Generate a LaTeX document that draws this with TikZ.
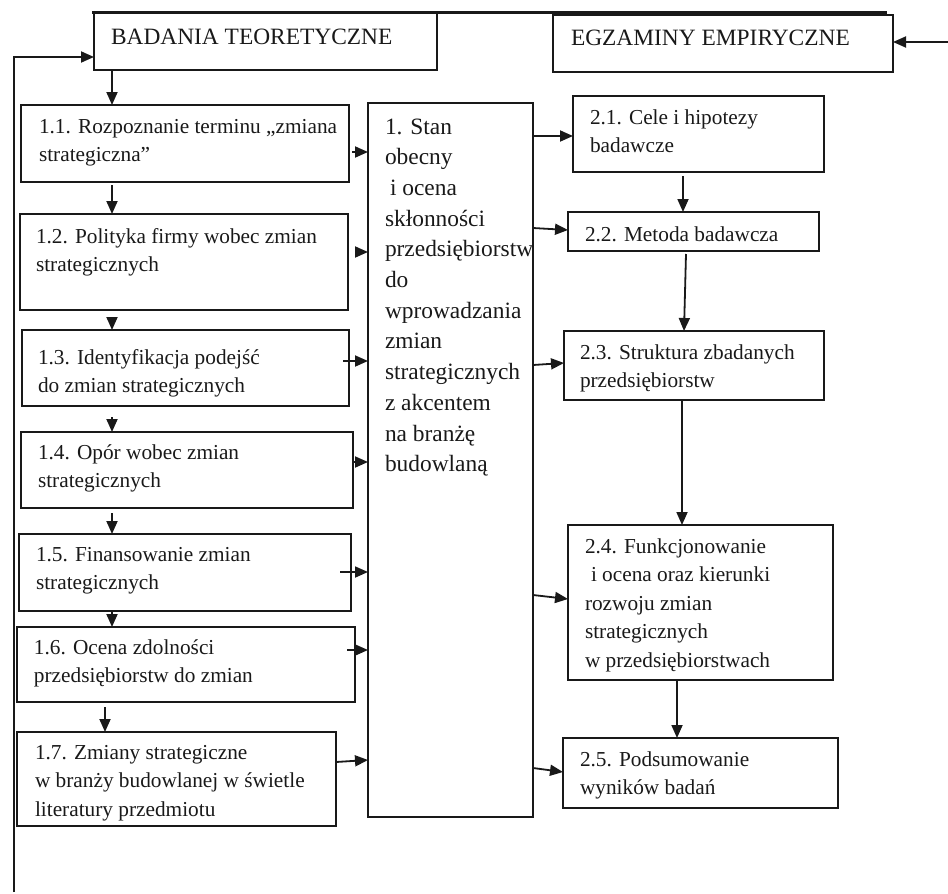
\documentclass[tikz,border=0pt]{standalone}
\usepackage{fontspec}
\setmainfont{Liberation Serif}
\usetikzlibrary{arrows.meta}
\newcommand\smallfnt{\fontsize{21.3}{28.5}\selectfont}
\newcommand\bigfnt{\fontsize{23.4}{30.7}\selectfont}
% box: name, left, top, right, bottom
\newcommand\bx[5]{\node[box, minimum width={(#4-#2)*1pt}, minimum height={(#5-#3)*1pt}] (#1) at (#2,#3) {};}
% small text: name, x, baseline, text
\newcommand\stx[4]{\node[stxt] (#1) at (#2,{#3-19.95}) {\strut #4};}
% big text: name, x, baseline, text
\newcommand\btx[4]{\node[btxt] (#1) at (#2,{#3-21.49}) {\strut #4};}
\begin{document}
\begin{tikzpicture}[x=1pt,y=-1pt,
  box/.style={draw=black!90, line width=1.7pt, inner sep=0pt, outer sep=0pt, anchor=north west},
  stxt/.style={inner sep=0pt, outer sep=0pt, anchor=north west, align=left, font=\smallfnt, text=black!90},
  btxt/.style={inner sep=0pt, outer sep=0pt, anchor=north west, align=left, font=\bigfnt, text=black!90},
  arr/.style={draw=black!90, line width=1.8pt, -{Triangle[length=13pt,width=11pt]}},
  topline/.style={draw=black!90, line width=3pt}]
\useasboundingbox (0,0) rectangle (948,894);

% boxes
\bx{b0}{94}{13}{437}{70}
\bx{b00}{553}{15}{893}{72}
\bx{b11}{21}{105}{349}{182}
\bx{b12}{20}{214}{348}{310}
\bx{b13}{22}{330}{349}{406}
\bx{b14}{21}{432}{353}{508}
\bx{b15}{19}{534}{351}{611}
\bx{b16}{17}{627}{355}{702}
\bx{b17}{17}{732}{336}{826}
\bx{c}{368}{103}{533}{817}
\bx{b21}{573}{96}{824}{172}
\bx{b22}{568}{212}{819}{251}
\bx{b23}{564}{331}{824}{400}
\bx{b24}{568}{525}{833}{680}
\bx{b25}{563}{738}{838}{808}

% texts
\btx{t0}{111}{44}{BADANIA TEORETYCZNE}
\btx{t00}{571}{45}{EGZAMINY EMPIRYCZNE}
\stx{t11}{39}{133}{1.1. Rozpoznanie terminu „zmiana\\strategiczna”}
\stx{t12}{36}{243}{1.2. Polityka firmy wobec zmian\\strategicznych}
\stx{t13}{38}{364}{1.3. Identyfikacja podejść\\do zmian strategicznych}
\stx{t14}{38}{459}{1.4. Opór wobec zmian\\strategicznych}
\stx{t15}{36}{561}{1.5. Finansowanie zmian\\strategicznych}
\stx{t16}{34}{654}{1.6. Ocena zdolności\\przedsiębiorstw do zmian}
\stx{t17}{35}{759}{1.7. Zmiany strategiczne\\w branży budowlanej w świetle\\literatury przedmiotu}
\btx{tc}{385}{134}{1. Stan\\obecny\\\hspace*{5pt}i ocena\\skłonności\\przedsiębiorstw\\do\\wprowadzania\\zmian\\strategicznych\\z akcentem\\na branżę\\budowlaną}
\stx{t21}{590}{124}{2.1. Cele i hipotezy\\badawcze}
\stx{t22}{585}{241}{2.2. Metoda badawcza}
\stx{t23}{580}{359}{2.3. Struktura zbadanych\\przedsiębiorstw}
\stx{t24}{585}{553}{2.4. Funkcjonowanie\\\hspace*{6pt}i ocena oraz kierunki\\rozwoju zmian\\strategicznych\\w przedsiębiorstwach}
\stx{t25}{580}{766}{2.5. Podsumowanie\\wyników badań}

% top line
\draw[topline] ([xshift=-2pt,yshift=1pt]b0.north west) -- ([xshift=-6pt,yshift=3pt]b00.north east);

% feedback lines
\coordinate (fb) at (14,892);
\draw[arr] (fb) |- ([yshift=-15.5pt]b0.west);
\coordinate (rf) at (948,42);
\draw[arr] (rf) -- (b00.east |- rf);

% left column vertical arrows
\coordinate (xl) at (112,0);
\coordinate (xl2) at (105,0);
\draw[arr] (b0.south -| xl) -- (b11.north -| xl);
\draw[arr] ([yshift=-3pt]b11.south -| xl) -- (b12.north -| xl);
\draw[arr] ([yshift=-10pt]b12.south -| xl) -- (b13.north -| xl);
\draw[arr] ([yshift=-11pt]b13.south -| xl) -- (b14.north -| xl);
\draw[arr] ([yshift=-5pt]b14.south -| xl) -- (b15.north -| xl);
\draw[arr] (b15.south -| xl) -- (b16.north -| xl);
\draw[arr] ([yshift=-5pt]b16.south -| xl2) -- (b17.north -| xl2);

% left boxes to centre box
\draw[arr] ([xshift=3pt,yshift=-8.5pt]b11.east) coordinate (s11) -- (c.west |- s11);
\draw[arr] ([xshift=7pt,yshift=10pt]b12.east) coordinate (s12) -- (c.west |- s12);
\draw[arr] ([xshift=-6pt,yshift=7pt]b13.east) coordinate (s13) -- (c.west |- s13);
\draw[arr] ([xshift=-1pt,yshift=8pt]b14.east) coordinate (s14) -- (c.west |- s14);
\draw[arr] ([xshift=-11pt,yshift=0.5pt]b15.east) coordinate (s15) -- (c.west |- s15);
\draw[arr] ([xshift=-8pt,yshift=14.5pt]b16.east) coordinate (s16) -- (c.west |- s16);
\draw[arr] ([yshift=17pt]b17.east) coordinate (s17) -- ([yshift=2pt]c.west |- s17);

% centre box to right boxes
\coordinate (e21) at ([yshift=-2pt]b21.west);
\draw[arr] (c.east |- e21) -- (e21);
\coordinate (e22) at ([yshift=1.5pt]b22.west);
\draw[arr] ([yshift=2pt]c.east |- e22) -- (e22);
\coordinate (e23) at ([yshift=2.5pt]b23.west);
\draw[arr] ([yshift=-2pt]c.east |- e23) -- (e23);
\coordinate (e24) at ([yshift=3.5pt]b24.west);
\draw[arr] ([yshift=4pt]c.east |- e24) -- (e24);
\coordinate (e25) at ([yshift=1pt]b25.west);
\draw[arr] ([yshift=4pt]c.east |- e25) -- (e25);

% right column vertical arrows
\coordinate (xr1) at (683,0);
\coordinate (xr2a) at (686,0);
\coordinate (xr2b) at (684,0);
\coordinate (xr3) at (682,0);
\coordinate (xr4) at (677,0);
\draw[arr] ([yshift=-4pt]b21.south -| xr1) -- (b22.north -| xr1);
\draw[arr] ([yshift=-3pt]b22.south -| xr2a) -- (b23.north -| xr2b);
\draw[arr] (b23.south -| xr3) -- (b24.north -| xr3);
\draw[arr] (b24.south -| xr4) -- (b25.north -| xr4);
\end{tikzpicture}
\end{document}
